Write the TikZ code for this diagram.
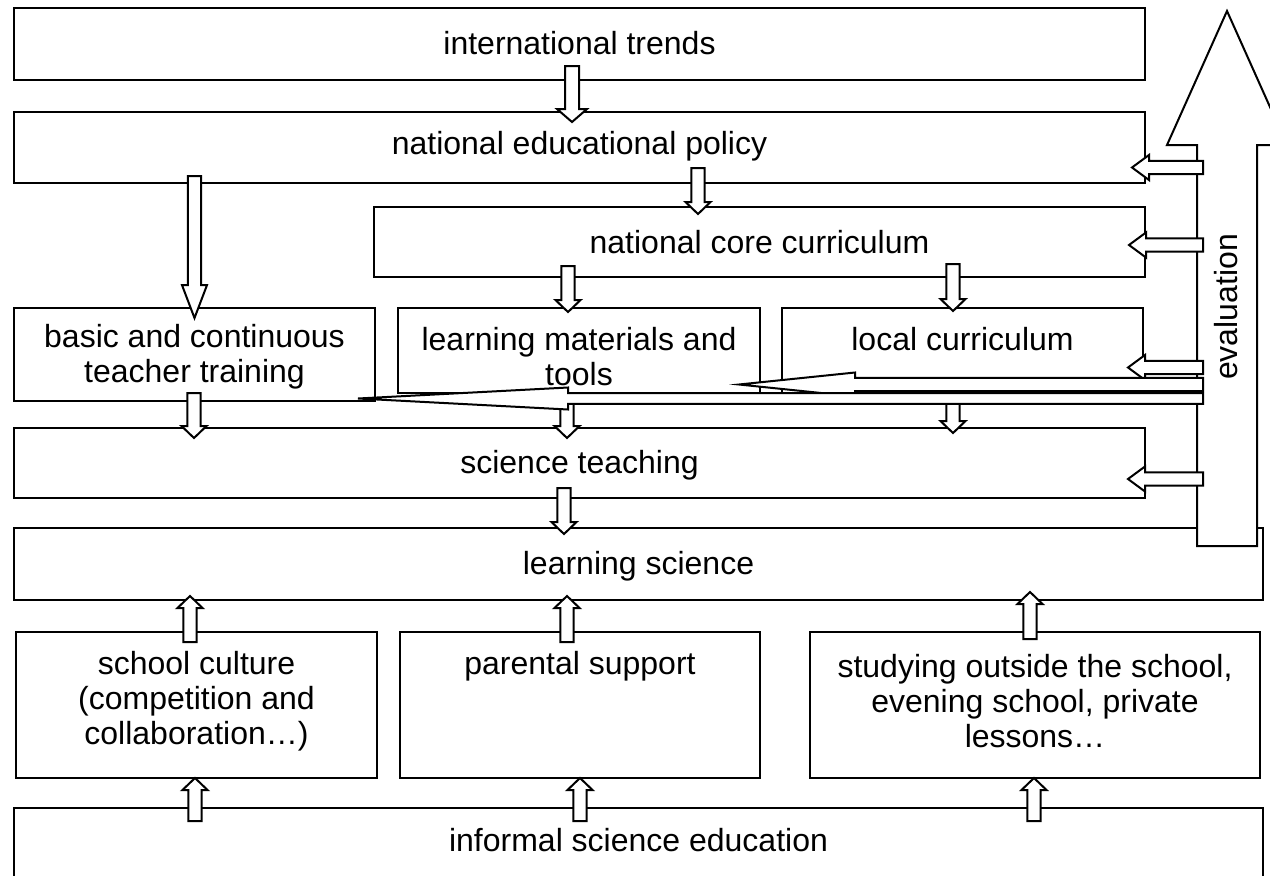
\documentclass[tikz,border=0pt]{standalone}
\usepackage{fontspec}
\setmainfont{Liberation Sans}
\usetikzlibrary{calc, fit}

\tikzset{
  shaft/.store in=\shafthalf,
  head/.store in=\headhalf,
  head len/.store in=\headlen,
  shaft=4.9pt, head=9.4pt, head len=9pt,
  hollow/.style={draw=black, fill=white, line width=1.5pt, line join=miter},
  box/.style={draw=black, line width=1.5pt, inner sep=0pt},
  txt/.style={align=center, font=\fontsize{24}{26.25}\selectfont, inner sep=0pt}
}

% hollow block arrow from #2 to #3
\newcommand{\blockarrow}[3][]{%
  \draw[hollow,#1] let \p1=(#2), \p2=(#3),
      \n1={atan2(\y2-\y1,\x2-\x1)}, \n2={veclen(\x2-\x1,\y2-\y1)} in
    {[shift={(\p1)}, rotate=\n1]
     (0pt,-\shafthalf) -- (\n2*1pt-\headlen,-\shafthalf) -- (\n2*1pt-\headlen,-\headhalf)
     -- (\n2*1pt,0pt) -- (\n2*1pt-\headlen,\headhalf) -- (\n2*1pt-\headlen,\shafthalf)
     -- (0pt,\shafthalf) -- cycle};
}

\begin{document}
\begin{tikzpicture}[x=0.75pt, y=-0.75pt]
    \clip (0,0) rectangle (1270,875);
    \fill[white] (0,0) rectangle (1270,875);

    % boxes
    \node[box, fit={(14,8) (1145,80)}] (trends) {};
    \node[box, fit={(14,112) (1145,183)}] (policy) {};
    \node[box, fit={(374,207) (1145,277)}] (core) {};
    \node[box, fit={(14,308) (375,401)}] (training) {};
    \node[box, fit={(398,308) (760,393)}] (materials) {};
    \node[box, fit={(782,308) (1143,393)}] (localcur) {};
    \node[box, fit={(14,428) (1145,498)}] (teaching) {};
    \node[box, fit={(14,528) (1263,600)}] (learning) {};
    \node[box, fit={(16,632) (377,778)}] (culture) {};
    \node[box, fit={(400,632) (760,778)}] (parents) {};
    \node[box, fit={(810,632) (1260,778)}] (outside) {};
    \node[box, fit={(14,808) (1263,885)}] (informal) {};

    % texts
    \node[txt] (trendstxt) at ($(trends.north)+(0,36)$) {international trends};
    \node[txt] (policytxt) at ($(policy.north)+(0,35)$) {national educational policy};
    \node[txt] (coretxt) at ($(core.north)+(0,36)$) {national core curriculum};
    \node[txt] (trainingtxt) at ($(training.north)+(0,50)$) {basic and continuous\\teacher training};
    \node[txt] (materialstxt) at ($(materials.north)+(0,50)$) {learning materials and\\tools};
    \node[txt] (localtxt) at ($(localcur.north)+(0,32)$) {local curriculum};
    \node[txt] (teachingtxt) at ($(teaching.north)+(0,38)$) {science teaching};
    \node[txt] (learningtxt) at ($(learning.north)+(0,39)$) {learning science};
    \node[txt] (culturetxt) at ($(culture.north)+(0,70)$) {school culture\\(competition and\\collaboration…)};
    \node[txt] (parentstxt) at ($(parents.north)+(0,35)$) {parental support};
    \node[txt] (outsidetxt) at ($(outside.north)+(0,70)$) {studying outside the school,\\evening school, private\\lessons…};
    \node[txt] (informaltxt) at ($(informal.north)+(0,33)$) {informal science education};

    % downward arrows
    \blockarrow[shaft=5.25pt, head=11.25pt, head len=9.75pt]{$(trends.south -| 572,0)+(0,-15)$}{$(policy.north -| 572,0)+(0,11)$}
    \blockarrow{$(policy.south -| 698,0)+(0,-16)$}{$(core.north -| 698,0)+(0,8)$}
    \blockarrow[head len=24.75pt]{$(policy.south -| 194.5,0)+(0,-8)$}{$(training.north -| 194.5,0)+(0,11)$}
    \blockarrow{$(core.south -| 568,0)+(0,-12)$}{$(materials.north -| 568,0)+(0,5)$}
    \blockarrow{$(core.south -| 953,0)+(0,-14)$}{$(localcur.north -| 953,0)+(0,4)$}
    \blockarrow{$(training.south -| 194,0)+(0,-9)$}{$(teaching.north -| 194,0)+(0,11)$}
    \blockarrow{$(materials.south -| 567,0)+(0,-1)$}{$(teaching.north -| 567,0)+(0,11)$}
    \blockarrow{$(localcur.south -| 953,0)+(0,-1)$}{$(teaching.north -| 953,0)+(0,6)$}
    \blockarrow{$(teaching.south -| 564,0)+(0,-11)$}{$(learning.north -| 564,0)+(0,7)$}

    % upward arrows
    \blockarrow{$(culture.north -| 190,0)+(0,11)$}{$(learning.south -| 190,0)+(0,-5)$}
    \blockarrow{$(parents.north -| 567,0)+(0,11)$}{$(learning.south -| 567,0)+(0,-5)$}
    \blockarrow{$(outside.north -| 1030,0)+(0,8)$}{$(learning.south -| 1030,0)+(0,-9)$}
    \blockarrow{$(informal.north -| 195,0)+(0,14)$}{$(culture.south -| 195,0)+(0,-1)$}
    \blockarrow{$(informal.north -| 580,0)+(0,14)$}{$(parents.south -| 580,0)+(0,-1)$}
    \blockarrow{$(informal.north -| 1034,0)+(0,14)$}{$(outside.south -| 1034,0)+(0,-1)$}

    % evaluation
    \coordinate (evalfoot) at (1227,546);
    \coordinate (evaltop) at (1227,11);
    \coordinate (evalside) at (1203,0);
    \blockarrow[shaft=22.5pt, head=45pt, head len=100.5pt]{evalfoot}{evaltop}
    \node[txt, rotate=90] (evaltxt) at (1226,307) {evaluation};

    % feedback arrows
    \blockarrow[head len=12.75pt]{$(evalside |- policy.east)+(0,20)$}{$(policy.east)+(-14,20)$}
    \blockarrow[head len=12.75pt]{$(evalside |- core.east)+(0,3)$}{$(core.east)+(-17,3)$}
    \blockarrow[head len=12.75pt]{$(evalside |- localcur.east)+(0,17)$}{$(localcur.east)+(-16,17)$}
    \blockarrow[head len=12.75pt]{$(evalside |- teaching.east)+(0,16)$}{$(teaching.east)+(-18,16)$}
    \blockarrow[shaft=4.9pt, head=9pt, head len=87pt]{$(evalside |- materials.south)+(0,-9.5)$}{$(materials.south east)+(-22,-9.5)$}
    \blockarrow[shaft=4.1pt, head=8.25pt, head len=157.5pt]{$(evalside |- training.south)+(0,-3.5)$}{$(training.south east)+(-18,-3.5)$}
\end{tikzpicture}
\end{document}
